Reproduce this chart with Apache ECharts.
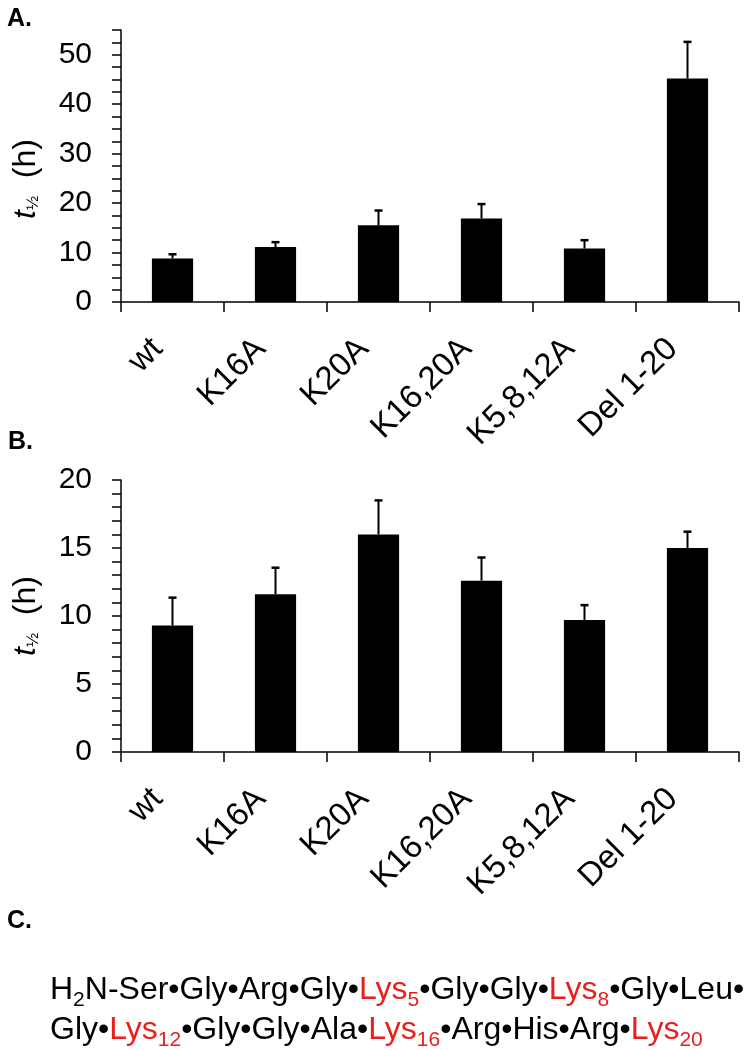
<!DOCTYPE html>
<html>
<head>
<meta charset="utf-8">
<script src="https://cdn.jsdelivr.net/npm/echarts@6/dist/echarts.min.js"></script>
<style>html,body{margin:0;padding:0;background:#fff;}#c{width:753px;height:1050px;}</style>
</head>
<body>
<div id="c"></div>
<script>
const categories = ['wt', 'K16A', 'K20A', 'K16,20A', 'K5,8,12A', 'Del 1-20'];
const halfLifeA = [8.8, 11.1, 15.5, 16.9, 10.8, 45.2];
const errorA = [0.85, 1.0, 3.0, 2.9, 1.7, 7.4];
const halfLifeB = [9.3, 11.6, 16.0, 12.6, 9.7, 15.0];
const errorB = [2.05, 1.95, 2.5, 1.7, 1.1, 1.2];
const yLabelStepA = 10;
const yLabelStepB = 5;

const FONT = '"Liberation Sans", Arial, sans-serif';

const chart = echarts.init(document.getElementById('c'), null, {renderer: 'canvas'});

function errData(vals, errs) {
  return vals.map((v, i) => [i, v, v + errs[i]]);
}
function renderErr(params, api) {
  const i = api.value(0);
  const p0 = api.coord([i, api.value(1)]);
  const p1 = api.coord([i, api.value(2)]);
  return {
    type: 'group',
    children: [
      {type: 'line', shape: {x1: p0[0], y1: p0[1], x2: p1[0], y2: p1[1]}, style: {stroke: '#000', lineWidth: 2}},
      {type: 'line', shape: {x1: p1[0] - 4, y1: p1[1], x2: p1[0] + 4, y2: p1[1]}, style: {stroke: '#000', lineWidth: 2.5}}
    ]
  };
}
const yName = '{i|t}{s|½}{h|  (h)}';
function yNameStyle(shift) {
  return {
    fontFamily: FONT, fontSize: 32, color: '#000',
    padding: [0, shift, 0, 0],
    rich: {
      i: {fontFamily: FONT, fontSize: 32, fontStyle: 'italic', color: '#000'},
      s: {fontFamily: FONT, fontSize: 17, color: '#000', padding: [14, 0, 0, 0]},
      h: {fontFamily: FONT, fontSize: 32, color: '#000'}
    }
  };
}
function xAxisCfg(gi) {
  return {
    type: 'category', gridIndex: gi, data: categories,
    axisLine: {lineStyle: {color: '#000', width: 1.5}},
    axisTick: {show: true, alignWithLabel: false, length: 10, lineStyle: {color: '#000', width: 1.5}},
    axisLabel: {rotate: 45, interval: 0, margin: 27, color: '#000', fontFamily: FONT, fontSize: 33, padding: [0, 21, 0, 0]}
  };
}
function yAxisCfg(gi, max, step, labelStep, shift) {
  return {
    type: 'value', gridIndex: gi, min: 0, max: max, interval: step,
    name: yName, nameLocation: 'middle', nameGap: 79, nameTextStyle: yNameStyle(shift),
    axisLine: {show: true, lineStyle: {color: '#000', width: 1.5}},
    axisTick: {show: true, length: 9, lineStyle: {color: '#000', width: 1.5}},
    splitLine: {show: false},
    axisLabel: {
      margin: 29, color: '#000', fontFamily: FONT, fontSize: 30,
      formatter: v => (Math.abs(v % labelStep) < 1e-9 ? String(v) : '')
    }
  };
}

const seqRich = {
  sub: {fontFamily: FONT, fontSize: 21, fill: '#000', lineHeight: 20, padding: [21, 0, 0, 0]},
  r: {fontFamily: FONT, fontSize: 32, fill: '#e8201c', lineHeight: 40},
  rsub: {fontFamily: FONT, fontSize: 21, fill: '#e8201c', lineHeight: 20, padding: [21, 0, 0, 0]}
};

const option = {
  animation: false,
  backgroundColor: '#fff',
  grid: [
    {left: 121, right: 14, top: 30, bottom: 748},
    {left: 121, right: 14, top: 480, bottom: 298}
  ],
  xAxis: [xAxisCfg(0), xAxisCfg(1)],
  yAxis: [yAxisCfg(0, 55, 2.5, yLabelStepA, 26), yAxisCfg(1, 20, 1, yLabelStepB, 0)],
  series: [
    {type: 'bar', xAxisIndex: 0, yAxisIndex: 0, data: halfLifeA, barWidth: '40%', itemStyle: {color: '#000'}},
    {type: 'custom', xAxisIndex: 0, yAxisIndex: 0, data: errData(halfLifeA, errorA), renderItem: renderErr, z: 3},
    {type: 'bar', xAxisIndex: 1, yAxisIndex: 1, data: halfLifeB, barWidth: '40%', itemStyle: {color: '#000'}},
    {type: 'custom', xAxisIndex: 1, yAxisIndex: 1, data: errData(halfLifeB, errorB), renderItem: renderErr, z: 3}
  ],
  graphic: [
    {type: 'text', left: 7, top: 7, style: {text: 'A.', font: 'bold 25px ' + FONT, fill: '#000'}},
    {type: 'text', left: 8, top: 430, style: {text: 'B.', font: 'bold 25px ' + FONT, fill: '#000'}},
    {type: 'text', left: 7, top: 909, style: {text: 'C.', font: 'bold 25px ' + FONT, fill: '#000'}},
    {type: 'text', left: 50, top: 969, style: {
      text: 'H{sub|2}N-Ser•Gly•Arg•Gly•{r|Lys}{rsub|5}•Gly•Gly•{r|Lys}{rsub|8}•Gly•Leu•',
      font: '32px ' + FONT, fill: '#000', lineHeight: 40, rich: seqRich
    }},
    {type: 'text', left: 50, top: 1009, style: {
      text: 'Gly•{r|Lys}{rsub|12}•Gly•Gly•Ala•{r|Lys}{rsub|16}•Arg•His•Arg•{r|Lys}{rsub|20}',
      font: '32px ' + FONT, fill: '#000', lineHeight: 40, rich: seqRich
    }}
  ]
};
chart.setOption(option);
</script>
</body>
</html>
